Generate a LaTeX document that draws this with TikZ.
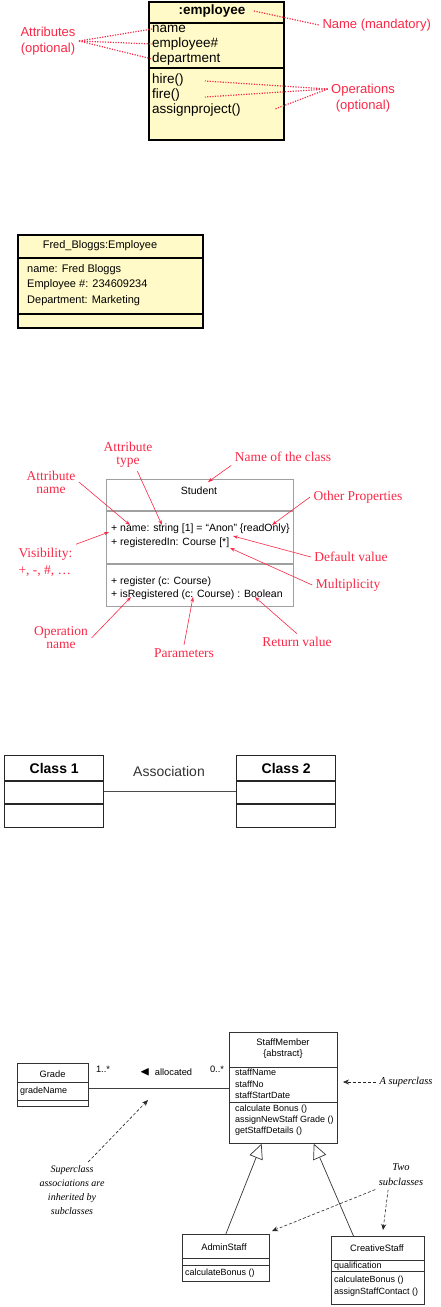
\documentclass[tikz,border=0pt]{standalone}
\usepackage{amssymb}
\usepackage{fontspec}
\setmainfont{Liberation Serif}
\setsansfont{Liberation Sans}
\usetikzlibrary{arrows.meta, positioning, calc}
\definecolor{notered}{RGB}{250,40,70}
\definecolor{cardfill}{RGB}{255,250,200}
\definecolor{linegray}{RGB}{160,160,160}

\begin{document}
\begin{tikzpicture}[x=1pt, y=-1pt,
  card/.style={draw, line width=1.8pt, fill=cardfill, anchor=north west, inner sep=0},
  objtxt/.style={font=\sffamily\fontsize{13.5}{15}\selectfont, inner sep=0, anchor=west},
  instxt/.style={font=\sffamily\fontsize{11}{13}\selectfont, inner sep=0, anchor=west},
  stutxt/.style={font=\sffamily\fontsize{10.5}{12}\selectfont, inner sep=0, anchor=west},
  umltxt/.style={font=\sffamily\fontsize{9}{11}\selectfont, inner sep=0, anchor=west},
  rednote/.style={text=notered, font=\sffamily\fontsize{13}{16}\selectfont, align=center},
  serifnote/.style={text=notered, font=\rmfamily\fontsize{13.5}{13}\selectfont, align=center},
  annot/.style={font=\rmfamily\itshape\fontsize{10}{14}\selectfont, align=center},
  dotlink/.style={notered, line width=1.2pt, dash pattern=on 1.2pt off 1.4pt},
  redarrow/.style={notered, line width=0.6pt, -{Stealth[length=5pt, width=3.5pt]}},
  notearrow/.style={black!85, line width=0.6pt, dash pattern=on 3pt off 2pt, -{Stealth[length=6pt, width=5pt]}},
  classbox/.style={draw=black!85, line width=1.4pt, minimum width=99pt, minimum height=72pt, anchor=north west, inner sep=0},
  umlbox/.style={draw=black!80, line width=0.7pt, anchor=north west, inner sep=0},
  inherit/.style={black!80, line width=0.7pt, -{Triangle[open, fill=white, length=15pt, width=14pt]}}]
\useasboundingbox (0,0) rectangle (441,1307);

% object with notes
\node[card, minimum width=135pt, minimum height=138pt] (emp) at (148,1) {};
\draw[line width=1.5pt] (emp.west |- 0,23) -- (emp.east |- 0,23);
\draw[line width=1.5pt] (emp.west |- 0,68) -- (emp.east |- 0,68);
\node[font=\sffamily\bfseries\fontsize{13.5}{15}\selectfont] (empname) at (212,11) {:employee};
\foreach \lbl [count=\i] in {name, employee\#, department}
  \node[objtxt] (ea\i) at (152,14+15*\i) {\lbl};
\foreach \lbl [count=\i] in {hire(), fire(), assignproject()}
  \node[objtxt] (eo\i) at (152,65+15*\i) {\lbl};
\node[rednote] (attrnote) at (48,41) {Attributes\\(optional)};
\node[rednote, anchor=west] (namenote) at (319,25) {Name (mandatory)};
\node[rednote] (opnote) at (363,98) {Operations\\(optional)};
\coordinate (opfan) at ($(opnote.west)+(0,-9)$);
\coordinate (optip1) at (205,81);
\coordinate (optip2) at (205,97);
\coordinate (optip3) at (275,109);
\foreach \i in {1,2,3} \draw[dotlink] (attrnote.east) -- (ea\i.west);
\draw[dotlink] ($(empname.east)+(5,0)$) -- (namenote.west);
\foreach \i in {1,2,3} \draw[dotlink] (opfan) -- (optip\i);

% instance
\node[card, line width=1.5pt, minimum width=185pt, minimum height=93pt] (fred) at (17,234) {};
\draw[line width=1.3pt] (fred.west |- 0,258) -- (fred.east |- 0,258);
\draw[line width=1.3pt] (fred.west |- 0,314) -- (fred.east |- 0,314);
\node[font=\sffamily\fontsize{11}{13}\selectfont] (fredname) at (100,246) {Fred\_Bloggs:Employee};
\foreach \lbl [count=\i] in {name: Fred Bloggs, Employee \#: 234609234, Department: Marketing}
  \node[instxt] (fa\i) at (27,254+15.5*\i) {\lbl};

% class notation
\node[draw=linegray, line width=0.9pt, minimum width=187pt, minimum height=127pt, anchor=north west, inner sep=0] (student) at (106,479) {};
\draw[linegray, line width=1.3pt] (student.west |- 0,511) -- (student.east |- 0,511);
\draw[linegray, line width=1.3pt] (student.west |- 0,564) -- (student.east |- 0,564);
\node[font=\sffamily\fontsize{10.5}{12}\selectfont] (stuname) at (199,491) {Student};
\node[stutxt] (sa1) at (111,529) {+ name: string [1] = “Anon” \{readOnly\}};
\node[stutxt] (sa2) at (111,543) {+ registeredIn: Course [*]};
\node[stutxt] (so1) at (111,582) {+ register (c: Course)};
\node[stutxt] (so2) at (111,595) {+ isRegistered (c: Course) : Boolean};

\node[serifnote] (atype) at (128,455) {Attribute\\type};
\node[serifnote] (clsname) at (283,457) {Name of the class};
\node[serifnote] (aname) at (51,482) {Attribute\\name};
\node[serifnote] (otherp) at (358,497) {Other Properties};
\node[serifnote, align=left, anchor=west, font=\rmfamily\fontsize{13.5}{17}\selectfont] (vis) at (15,562) {Visibility:\\+, -, \#, …};
\node[serifnote] (defval) at (351,557) {Default value};
\node[serifnote] (mult) at (348,585) {Multiplicity};
\node[serifnote] (opname) at (61,638) {Operation\\name};
\node[serifnote] (params) at (184,653) {Parameters};
\node[serifnote] (retval) at (297,642) {Return value};

\coordinate (atypept) at (162,525);
\coordinate (clsnamept) at (208,482);
\coordinate (anamept) at (130,525);
\coordinate (otherpt) at (272,525);
\coordinate (vispt) at (109,532);
\coordinate (defpt) at (233,536);
\coordinate (multpt) at (230,548);
\coordinate (opnamept) at (131,597);
\coordinate (parampt) at (193,597);
\coordinate (retpt) at (255,597);
\draw[redarrow] (atype.-60) -- (atypept);
\draw[redarrow] (clsname.south west) -- (clsnamept);
\draw[redarrow] (aname.east) -- (anamept);
\draw[redarrow] (otherp.west) -- (otherpt);
\draw[redarrow] (vis.north east) -- (vispt);
\draw[redarrow] (defval.west) -- (defpt);
\draw[redarrow] (mult.west) -- (multpt);
\draw[redarrow] (opname.east) -- (opnamept);
\draw[redarrow] (params.north) -- (parampt);
\draw[redarrow] (retval.north) -- (retpt);

% association
\node[classbox] (c1) at (4,755) {};
\node[classbox] (c2) at (236,755) {};
\foreach \n in {c1,c2}
  \foreach \y in {781,804}
    \draw[black!85, line width=1.2pt] (\n.west |- 0,\y) -- (\n.east |- 0,\y);
\node[font=\sffamily\bfseries\fontsize{14}{16}\selectfont] (c1name) at (c1.north |- 0,768) {Class 1};
\node[font=\sffamily\bfseries\fontsize{14}{16}\selectfont] (c2name) at (c2.north |- 0,768) {Class 2};
\node[font=\sffamily\fontsize{14}{16}\selectfont, text=black!80] (assoc) at (169,771) {Association};
\draw[black!70, line width=0.8pt] (c1.east |- 0,791) -- (c2.west |- 0,791);

% generalization
\node[umlbox, minimum width=108pt, minimum height=111pt] (staff) at (229,1032) {};
\draw[black!80, line width=0.7pt] (staff.west |- 0,1067) -- (staff.east |- 0,1067);
\draw[black!80, line width=0.7pt] (staff.west |- 0,1102) -- (staff.east |- 0,1102);
\node[font=\sffamily\fontsize{9.3}{11}\selectfont] (staffname) at (283,1042) {StaffMember};
\node[font=\sffamily\fontsize{9.3}{11}\selectfont] (abstr) at (283,1054) {\{abstract\}};
\foreach \lbl [count=\i] in {staffName, staffNo, staffStartDate}
  \node[umltxt] (sfa\i) at (235,1061+11.5*\i) {\lbl};
\foreach \lbl [count=\i] in {calculate Bonus (), assignNewStaff Grade (), getStaffDetails ()}
  \node[umltxt] (sfo\i) at (235,1098+11*\i) {\lbl};

\node[umlbox, minimum width=71pt, minimum height=43pt] (grade) at (17,1063) {};
\draw[black!80, line width=0.7pt] (grade.west |- 0,1082) -- (grade.east |- 0,1082);
\draw[black!80, line width=0.7pt] (grade.west |- 0,1100) -- (grade.east |- 0,1100);
\node[font=\sffamily\fontsize{9.3}{11}\selectfont] (gradename) at (52.5,1074) {Grade};
\node[umltxt] (ga1) at (20,1091) {gradeName};
\draw[black!75, line width=0.6pt] (grade.east |- 0,1088) -- (staff.west |- 0,1088);
\node[font=\sffamily\fontsize{9.3}{11}\selectfont] (gmult) at (103,1069) {1..*};
\node[font=\sffamily\fontsize{9.3}{11}\selectfont] (smult) at (217,1069) {0..*};
\node[font=\sffamily\fontsize{9.3}{11}\selectfont] (alloc) at (166,1072) {{\fontsize{13}{13}\selectfont$\blacktriangleleft$}\hspace{5pt}allocated};

\node[umlbox, minimum width=87pt, minimum height=47pt] (admin) at (182,1234) {};
\draw[black!80, line width=0.7pt] (admin.west |- 0,1258) -- (admin.east |- 0,1258);
\draw[black!80, line width=0.7pt] (admin.west |- 0,1265) -- (admin.east |- 0,1265);
\node[font=\sffamily\fontsize{9.3}{11}\selectfont] (adminname) at (224,1247) {AdminStaff};
\node[umltxt] (ao1) at (185,1273) {calculateBonus ()};

\node[umlbox, minimum width=93pt, minimum height=68pt] (creative) at (331,1236) {};
\draw[black!80, line width=0.7pt] (creative.west |- 0,1260) -- (creative.east |- 0,1260);
\draw[black!80, line width=0.7pt] (creative.west |- 0,1271) -- (creative.east |- 0,1271);
\node[font=\sffamily\fontsize{9.3}{11}\selectfont] (creativename) at (377,1248) {CreativeStaff};
\node[umltxt] (ca1) at (334,1266) {qualification};
\node[umltxt] (co1) at (334,1280) {calculateBonus ()};
\node[umltxt] (co2) at (334,1292) {assignStaffContact ()};

\draw[inherit] (admin.north) -- ($(staff.south west)!0.3!(staff.south east)$);
\draw[inherit] ($(creative.north west)!0.24!(creative.north east)$) -- ($(staff.south west)!0.78!(staff.south east)$);

\node[annot, anchor=west, font=\rmfamily\itshape\fontsize{10.5}{14}\selectfont] (supnote) at (376,1082) {A superclass};
\coordinate (suppt) at (343,1082);
\draw[notearrow] (supnote.west) -- (suppt);
\node[annot] (inhnote) at (72,1190) {Superclass\\associations are\\inherited by\\subclasses};
\coordinate (inhpt) at (148,1100);
\draw[notearrow] (inhnote.60) -- (inhpt);
\node[annot, font=\rmfamily\itshape\fontsize{10.5}{15}\selectfont] (twonote) at (401,1175) {Two\\subclasses};
\coordinate (subpt1) at (272,1231);
\coordinate (subpt2) at (383,1230);
\draw[notearrow] (twonote.south west) -- (subpt1);
\draw[notearrow] ($(twonote.south)!0.5!(twonote.south west)$) -- (subpt2);
\end{tikzpicture}
\end{document}
